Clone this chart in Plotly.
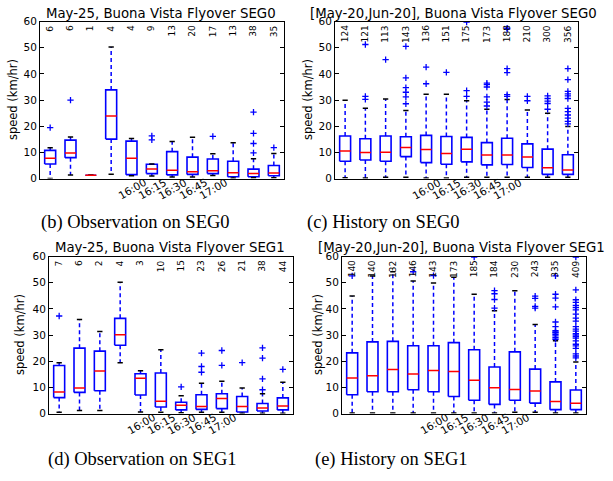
import plotly.graph_objects as go
from plotly.subplots import make_subplots

positions = list(range(1, 13))
time_positions = [5, 6, 7, 8, 9]
time_labels = ["16:00", "16:15", "16:30", "16:45", "17:00"]

# ---- (b) Observation on SEG0 ----
obs0_q1 = [5.6, 8.0, 1.3, 15.1, 1.5, 1.9, 1.4, 1.6, 1.9, 0.7, 0.7, 1.1]
obs0_med = [7.8, 9.8, 1.3, 23.9, 7.8, 3.7, 3.2, 2.6, 3.0, 2.2, 1.9, 2.1]
obs0_q3 = [10.8, 14.7, 1.3, 33.9, 14.3, 5.5, 10.3, 8.2, 7.5, 6.6, 3.6, 5.0]
obs0_lo = [0.0, 1.4, 1.3, 1.7, 1.1, 1.0, 0.6, 0.6, 1.2, 0.2, 0.3, 0.3]
obs0_hi = [11.8, 15.9, 1.3, 50.3, 15.3, 5.6, 14.2, 15.8, 9.5, 13.7, 7.6, 9.6]
obs0_out = [[19.5], [30.0], [], [], [], [14.8, 16.3], [], [], [16.1], [],
            [9.8, 13.4, 17.3, 25.4], [11.8]]
obs0_n = [6, 6, 1, 4, 4, 9, 13, 20, 17, 13, 38, 35]

# ---- (c) History on SEG0 ----
his0_q1 = [6.6, 7.1, 6.6, 8.4, 6.1, 5.5, 6.4, 5.25, 5.4, 4.25, 1.6, 1.6]
his0_med = [10.5, 10.0, 10.1, 11.9, 11.1, 9.6, 11.25, 9.0, 9.0, 8.25, 4.1, 3.25]
his0_q3 = [16.25, 15.25, 16.25, 16.0, 16.5, 16.1, 15.75, 13.75, 15.4, 13.25, 11.25, 9.1]
his0_lo = [0.3, 0.2, 0.5, 0.5, 0.2, 0.2, 0.5, 0.5, 0.5, 0.5, 0.5, 0.5]
his0_hi = [29.9, 26.9, 30.4, 26.0, 32.25, 32.25, 29.75, 26.5, 30.25, 26.25, 25.0, 19.9]
his0_out = [[], [30.25, 31.4, 51.25], [45.5], [28.6, 31.25, 33.0, 34.75, 38.5, 50.5],
            [36.25, 42.6], [40.6], [31.4, 33.6, 59.8],
            [27.75, 29.25, 31.25, 35.0, 35.9, 36.5],
            [31.4, 32.1, 40.5, 42.0, 57.1, 57.5], [29.75, 31.4],
            [26.5, 28.7, 29.6, 30.6, 31.6],
            [20.9, 21.9, 23.1, 24.3, 25.6, 26.8, 30.6, 31.6, 32.4, 33.3, 37.8, 42.0]]
his0_n = [124, 121, 113, 143, 136, 151, 175, 173, 188, 210, 300, 356]

# ---- (d) Observation on SEG1 ----
obs1_q1 = [6.1, 8.1, 8.7, 26.1, 7.1, 2.5, 1.4, 1.6, 1.9, 0.6, 1.0, 1.4]
obs1_med = [8.2, 9.8, 16.3, 30.1, 13.5, 4.7, 3.2, 2.7, 5.8, 2.7, 2.1, 2.9]
obs1_q3 = [18.4, 25.0, 23.85, 36.4, 15.2, 15.5, 4.35, 7.2, 7.6, 6.5, 3.85, 6.0]
obs1_lo = [0.5, 1.2, 1.2, 19.4, 0.6, 0.5, 0.3, 0.5, 0.5, 0.1, 0.1, 0.1]
obs1_hi = [19.4, 36.0, 31.4, 50.2, 16.4, 24.35, 6.8, 11.55, 12.4, 9.8, 7.6, 12.0]
obs1_out = [[37.3], [], [], [], [], [], [10.2], [15.8, 18.0, 23.1], [18.4, 24.1], [19.5],
            [9.1, 13.3, 21.2, 25.1], [16.9]]
obs1_n = [7, 6, 2, 4, 3, 10, 15, 23, 26, 21, 38, 44]

# ---- (e) History on SEG1 ----
his1_q1 = [7.2, 8.35, 8.35, 9.1, 8.35, 6.5, 5.1, 3.5, 5.1, 4.0, 1.5, 1.5]
his1_med = [13.6, 14.5, 16.8, 15.1, 16.5, 16.1, 12.7, 9.85, 9.2, 8.6, 4.6, 3.9]
his1_q3 = [23.2, 27.4, 27.6, 25.9, 25.9, 27.1, 24.4, 17.8, 23.6, 17.0, 12.1, 9.0]
his1_lo = [0.2, 0.2, 0.2, 0.2, 0.2, 0.2, 0.2, 0.2, 0.5, 0.5, 0.2, 0.2]
his1_hi = [44.9, 52.6, 54.2, 50.7, 49.9, 52.1, 45.6, 39.3, 46.9, 34.0, 27.8, 19.7]
his1_out = [[52.6], [], [], [54.2], [52.7], [], [59.8], [40.3, 43.6, 45.8, 47.0], [],
            [40.3, 41.0, 44.0, 44.9],
            [28.4, 29.0, 29.7, 30.3, 30.9, 31.2, 31.7, 33.2, 35.0, 40.8, 44.1, 45.6, 52.6],
            [21.3, 22.0, 22.8, 24.9, 25.9, 26.5, 27.8, 28.8, 29.4, 30.0, 30.5, 31.5, 32.3,
             33.2, 35.3, 36.5, 38.0, 39.6, 40.5, 41.3, 42.5, 43.5, 47.3, 59.8]]
his1_n = [140, 140, 132, 146, 143, 173, 185, 184, 230, 243, 335, 409]

titles = ["May-25, Buona Vista Flyover SEG0", "[May-20,Jun-20], Buona Vista Flyover SEG0",
          "May-25, Buona Vista Flyover SEG1", "[May-20,Jun-20], Buona Vista Flyover SEG1"]
captions = ["(b) Observation on SEG0", "(c) History on SEG0",
            "(d) Observation on SEG1", "(e) History on SEG1"]
y_label = "speed (km/hr)"

W, H = 613, 481
panels_px = [  # x0, x1, ytop, ybottom in pixels
    (40, 284, 16, 177),
    (335, 578, 16, 177),
    (49, 293, 257, 418),
    (342, 586, 257, 418),
]
ylab_x_px = [13, 308, 20, 318]
title_pos_px = [(161, 7.5), (453, 7.5), (170, 248), (461, 248)]
caption_px = [(135, 222), (384, 222), (142, 465), (391, 465)]

BLUE = "#0000ff"
RED = "#ff0000"
FONT = "DejaVu Sans"

data = [
    (obs0_q1, obs0_med, obs0_q3, obs0_lo, obs0_hi, obs0_out, obs0_n),
    (his0_q1, his0_med, his0_q3, his0_lo, his0_hi, his0_out, his0_n),
    (obs1_q1, obs1_med, obs1_q3, obs1_lo, obs1_hi, obs1_out, obs1_n),
    (his1_q1, his1_med, his1_q3, his1_lo, his1_hi, his1_out, his1_n),
]

fig = make_subplots(rows=2, cols=2)
rc = [(1, 1), (1, 2), (2, 1), (2, 2)]
bw = 0.27
cw = 0.13
count_size = 9
digit_w = 0.636 * count_size

annotations = []
for k, (q1, med, q3, lo, hi, out, n) in enumerate(data):
    r, c = rc[k]
    wx, wy = [], []
    bx, by = [], []
    cx, cy = [], []
    mx, my = [], []
    ox, oy = [], []
    for i, p in enumerate(positions):
        wx += [p, p, None, p, p, None]
        wy += [q3[i], hi[i], None, q1[i], lo[i], None]
        bx += [p - bw, p + bw, p + bw, p - bw, p - bw, None]
        by += [q1[i], q1[i], q3[i], q3[i], q1[i], None]
        cx += [p - cw, p + cw, None, p - cw, p + cw, None]
        cy += [hi[i], hi[i], None, lo[i], lo[i], None]
        mx += [p - bw, p + bw, None]
        my += [med[i], med[i], None]
        for v in out[i]:
            ox.append(p)
            oy.append(v)
    fig.add_trace(go.Scatter(x=wx, y=wy, mode="lines", line=dict(color=BLUE, width=1.5, dash="4px,3px"),
                             showlegend=False, hoverinfo="skip"), row=r, col=c)
    fig.add_trace(go.Scatter(x=bx, y=by, mode="lines", line=dict(color=BLUE, width=1.6),
                             showlegend=False, hoverinfo="skip"), row=r, col=c)
    fig.add_trace(go.Scatter(x=cx, y=cy, mode="lines", line=dict(color="black", width=1.5),
                             showlegend=False, hoverinfo="skip"), row=r, col=c)
    fig.add_trace(go.Scatter(x=mx, y=my, mode="lines", line=dict(color=RED, width=1.5),
                             showlegend=False, hoverinfo="skip"), row=r, col=c)
    fig.add_trace(go.Scatter(x=ox, y=oy, mode="markers",
                             marker=dict(symbol="cross-thin", size=4.5, line=dict(color=BLUE, width=1.3), color=BLUE),
                             showlegend=False, hoverinfo="skip"), row=r, col=c)

    axn = "" if k == 0 else str(k + 1)
    x0, x1, yt, yb = panels_px[k]
    fig.update_layout(**{
        "xaxis" + axn: dict(domain=[x0 / W, x1 / W], range=[0.5, 12.5], showticklabels=False,
                            showgrid=False, zeroline=False, showline=True, linecolor="black",
                            linewidth=1, mirror=True, ticks=""),
        "yaxis" + axn: dict(domain=[1 - yb / H, 1 - yt / H], range=[0, 60], dtick=10, tick0=0,
                            showgrid=False, zeroline=False, showline=True, linecolor="black",
                            linewidth=1, mirror="ticks", ticks="inside", ticklen=4,
                            tickcolor="black", tickfont=dict(family=FONT, size=10.5, color="black")),
    })
    xr = "x" + axn
    yd = "y" + axn + " domain"
    # count labels (rotated, top-aligned just below the upper frame)
    for i, p in enumerate(positions):
        s = str(n[i])
        annotations.append(dict(x=p, y=1, xref=xr, yref=yd, text=s, textangle=-90,
                                showarrow=False, xanchor="center", yanchor="middle",
                                yshift=-(4 + len(s) * digit_w / 2),
                                font=dict(family=FONT, size=count_size, color="black")))
    # time labels
    for p, t in zip(time_positions, time_labels):
        annotations.append(dict(x=p, y=0, xref=xr, yref=yd, text=t, textangle=-30,
                                showarrow=False, xanchor="center", yanchor="middle", yshift=-10,
                                font=dict(family=FONT, size=10.5, color="black")))
    # title
    tx, ty = title_pos_px[k]
    annotations.append(dict(x=tx / W, y=1 - ty / H, xref="paper", yref="paper",
                            text=titles[k], showarrow=False, xanchor="center", yanchor="middle",
                            font=dict(family=FONT, size=13.3, color="black")))
    # y label
    annotations.append(dict(x=ylab_x_px[k] / W, y=1 - (yt + yb) / 2 / H, xref="paper", yref="paper",
                            text=y_label, textangle=-90, showarrow=False, xanchor="center",
                            yanchor="middle", font=dict(family=FONT, size=11.5, color="black")))
    # caption
    cxp, cyp = caption_px[k]
    annotations.append(dict(x=cxp / W, y=1 - cyp / H, xref="paper", yref="paper", text=captions[k],
                            showarrow=False, xanchor="center", yanchor="middle",
                            font=dict(family="Liberation Serif", size=18.5, color="black")))

fig.update_layout(width=W, height=H, margin=dict(l=0, r=0, t=0, b=0),
                  paper_bgcolor="white", plot_bgcolor="white", annotations=annotations,
                  showlegend=False)
fig.write_html("out.html", config={"displayModeBar": False, "staticPlot": True},
               post_script="document.body.style.margin='0';document.body.style.padding='0';"
                           "document.documentElement.style.overflow='hidden';")
